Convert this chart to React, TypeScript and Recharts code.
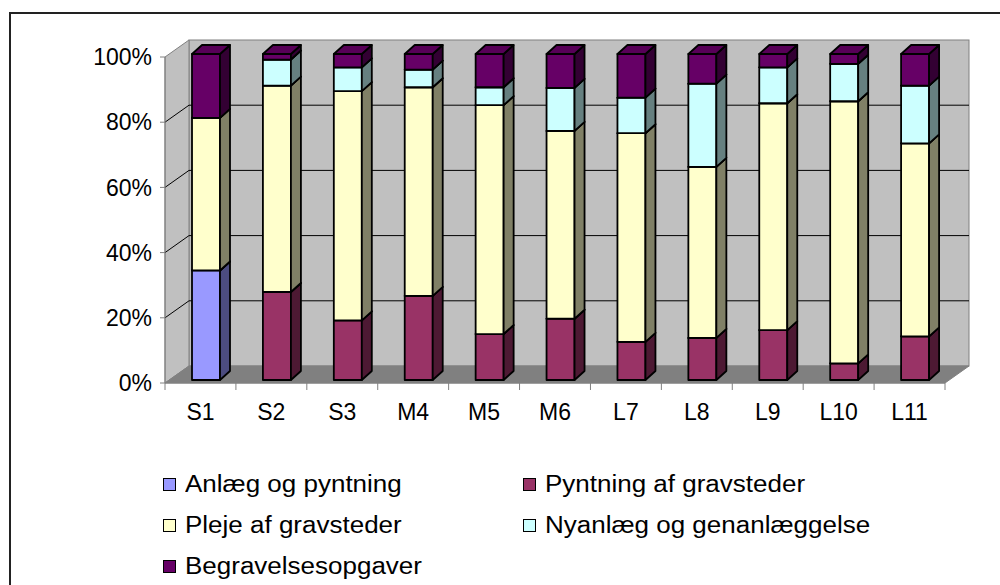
import React from "react";
import {
  Bar,
  BarChart,
  Legend,
  ReferenceArea,
  ReferenceLine,
  XAxis,
  YAxis,
} from "recharts";

const categories = ["S1", "S2", "S3", "M4", "M5", "M6", "L7", "L8", "L9", "L10", "L11"];
const anlaeg = [33.6, 0, 0, 0, 0, 0, 0, 0, 0, 0, 0];
const pyntning = [0, 27.0, 18.3, 25.8, 14.1, 18.8, 11.7, 12.9, 15.3, 5.1, 13.4];
const pleje = [46.8, 63.3, 70.3, 64.0, 70.2, 57.6, 64.0, 52.5, 69.6, 80.4, 59.2];
const nyanlaeg = [0, 8.0, 7.3, 5.4, 5.5, 13.2, 10.9, 25.5, 11.0, 11.5, 17.7];
const begravelse = [19.6, 1.7, 4.1, 4.8, 10.2, 10.4, 13.4, 9.1, 4.1, 3.0, 9.7];
const yTicks = [0, 0.2, 0.4, 0.6, 0.8, 1];
const gridTicks = [0.2, 0.4, 0.6, 0.8];

const data = categories.map((cat, i) => ({
  cat,
  anlaeg: anlaeg[i],
  pyntning: pyntning[i],
  pleje: pleje[i],
  nyanlaeg: nyanlaeg[i],
  begravelse: begravelse[i],
}));

const series = [
  { key: "anlaeg", name: "Anlæg og pyntning", front: "#9999FF", side: "#4C4C80", top: "#8282DA" },
  { key: "pyntning", name: "Pyntning af gravsteder", front: "#993366", side: "#4D1933", top: "#822B57" },
  { key: "pleje", name: "Pleje af gravsteder", front: "#FFFFCC", side: "#808066", top: "#D9D9AD" },
  { key: "nyanlaeg", name: "Nyanlæg og genanlæggelse", front: "#CCFFFF", side: "#668080", top: "#ADD9D9" },
  { key: "begravelse", name: "Begravelsesopgaver", front: "#660066", side: "#330033", top: "#570057" },
];

// 3D depth of the walls and of the bars
const DX = 24;
const DY = 17;
const BX = 10;
const BY = 9;
const SHIFT_X = 6;
const SHIFT_Y = -3;
const FONT = '"Liberation Sans", Arial, sans-serif';

function Walls(props: any) {
  const { x, y, width, height } = props;
  const b = y + height;
  const r = x + width;
  return (
    <g>
      <rect x={x + DX} y={y - DY} width={width} height={height} fill="#C0C0C0" stroke="#808080" />
      <polygon
        points={`${x},${y} ${x + DX},${y - DY} ${x + DX},${b - DY} ${x},${b}`}
        fill="#C0C0C0"
        stroke="#808080"
      />
      <polygon
        points={`${x},${b} ${x + DX},${b - DY} ${r + DX},${b - DY} ${r},${b}`}
        fill="#808080"
        stroke="#808080"
      />
    </g>
  );
}

function GridLine(props: any) {
  const { x1, y1, x2 } = props;
  return (
    <g>
      <line x1={x1} y1={y1} x2={x1 + DX} y2={y1 - DY} stroke="#000" strokeWidth={1} />
      <line x1={x1 + DX} y1={y1 - DY} x2={x2 + DX} y2={y1 - DY} stroke="#000" strokeWidth={1} />
    </g>
  );
}

function Box3D(props: any) {
  const { x, y, width, height, front, side, top } = props;
  if (!height || height <= 0) return <g />;
  const x0 = x + SHIFT_X;
  const y0 = y + SHIFT_Y;
  const w = width;
  const h = height;
  const line = { stroke: "#000", strokeWidth: 1.8, strokeLinejoin: "round" as const };
  return (
    <g>
      <rect x={x0} y={y0} width={w} height={h} fill={front} {...line} />
      <polygon
        points={`${x0 + w},${y0} ${x0 + w + BX},${y0 - BY} ${x0 + w + BX},${y0 + h - BY} ${x0 + w},${y0 + h}`}
        fill={side}
        {...line}
      />
      <polygon
        points={`${x0},${y0} ${x0 + BX},${y0 - BY} ${x0 + w + BX},${y0 - BY} ${x0 + w},${y0}`}
        fill={top}
        {...line}
      />
    </g>
  );
}

const X_TICK_SIZE = 7;
const X_TICK_MARGIN = 14;

function CategoryTick(props: any) {
  const { x, y, payload, index, visibleTicksCount } = props;
  const half = payload && payload.offset ? payload.offset : 35.45;
  const axisY = y - X_TICK_SIZE - X_TICK_MARGIN;
  const last = index === (visibleTicksCount ?? categories.length) - 1;
  return (
    <g>
      <line x1={x - half} y1={axisY} x2={x - half} y2={axisY + X_TICK_SIZE} stroke="#808080" />
      {last && (
        <line x1={x + half} y1={axisY} x2={x + half} y2={axisY + X_TICK_SIZE} stroke="#808080" />
      )}
      <text x={x} y={y} dy="0.71em" textAnchor="middle" fontSize={23} fontFamily={FONT} fill="#000">
        {payload.value}
      </text>
    </g>
  );
}

const legendSpots = [
  { left: 163, top: 484 },
  { left: 523, top: 484 },
  { left: 163, top: 525 },
  { left: 523, top: 525 },
  { left: 163, top: 566 },
];

function LegendBox() {
  return (
    <div style={{ position: "relative", width: 1000, height: 585 }}>
      {series.map((s, i) => {
        const spot = legendSpots[i];
        return (
          <div
            key={s.key}
            style={{
              position: "absolute",
              left: spot.left,
              top: spot.top - 14,
              height: 28,
              display: "flex",
              alignItems: "center",
              fontFamily: FONT,
              fontSize: 23,
              color: "#000",
              whiteSpace: "nowrap",
            }}
          >
            <span
              style={{
                display: "inline-block",
                width: 11,
                height: 11,
                border: "1px solid #000",
                background: s.front,
                marginRight: 9,
              }}
            />
            <span
              style={{
                display: "inline-block",
                transform: "scaleX(1.13)",
                transformOrigin: "left center",
              }}
            >
              {s.name}
            </span>
          </div>
        );
      })}
    </div>
  );
}

export default function App() {
  return (
    <div
      style={{
        position: "absolute",
        left: 0,
        top: 0,
        width: 1000,
        height: 585,
        overflow: "hidden",
        background: "#fff",
      }}
    >
      <div
        style={{
          position: "absolute",
          left: 9,
          top: 12,
          width: 1100,
          height: 700,
          border: "2px solid #222",
          boxSizing: "border-box",
        }}
      />
      <div style={{ position: "absolute", left: 0, top: 0 }}>
        <BarChart
          width={1000}
          height={585}
          data={data}
          stackOffset="expand"
          margin={{ top: 57, right: 55, bottom: 172, left: 105 }}
        >
          <ReferenceArea y1={0} y2={1} shape={Walls} ifOverflow="visible" zIndex={-60} />
          {gridTicks.map((t) => (
            <ReferenceLine key={t} y={t} shape={GridLine} ifOverflow="visible" zIndex={-50} />
          ))}
          <XAxis
            dataKey="cat"
            height={30}
            axisLine={{ stroke: "#808080" }}
            tickLine={false}
            tickSize={X_TICK_SIZE}
            tickMargin={X_TICK_MARGIN}
            interval={0}
            tick={<CategoryTick />}
          />
          <YAxis
            width={60}
            domain={[0, 1]}
            ticks={yTicks}
            tickFormatter={(v: number) => `${Math.round(v * 100)}%`}
            axisLine={{ stroke: "#808080" }}
            tickLine={{ stroke: "#808080" }}
            tickSize={5}
            tickMargin={8}
            tick={{ fill: "#000", fontSize: 23, fontFamily: FONT }}
          />
          {series.map((s) => (
            <Bar
              key={s.key}
              dataKey={s.key}
              name={s.name}
              stackId="a"
              fill={s.front}
              barSize={28}
              isAnimationActive={false}
              shape={(p: any) => <Box3D {...p} front={s.front} side={s.side} top={s.top} />}
            />
          ))}
          <Legend
            layout="horizontal"
            verticalAlign="middle"
            content={<LegendBox />}
            wrapperStyle={{ left: 0, top: 0, width: 1000, height: 585, pointerEvents: "none" }}
          />
        </BarChart>
      </div>
    </div>
  );
}
